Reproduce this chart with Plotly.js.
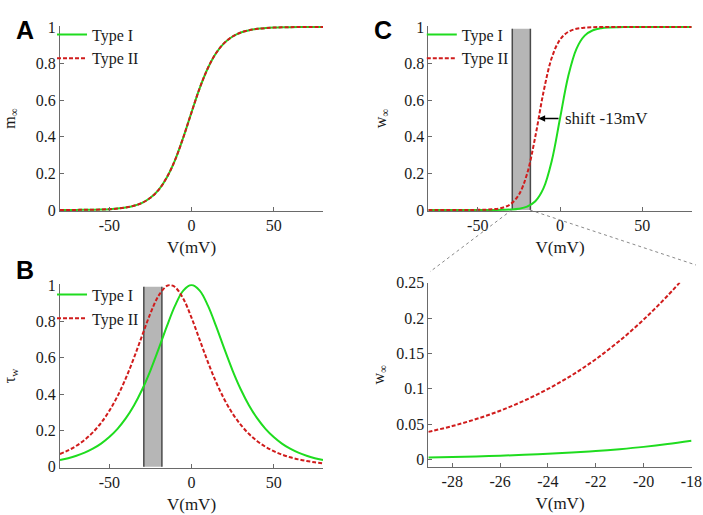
<!DOCTYPE html>
<html>
<head>
<meta charset="utf-8">
<script src="https://cdn.plot.ly/plotly-3.0.1.min.js"></script>
<style>
html,body{margin:0;padding:0;background:#fff;}
#chart{width:703px;height:515px;}
</style>
</head>
<body>
<div id="chart"></div>
<script>
// ---- data ----
const V = [-80,-75,-70,-65,-60,-55,-50,-45,-40,-35,-30,-25,-20,-15,-10,-5,0,5,10,15,20,25,30,35,40,45,50,55,60,65,70,75,80];
// Panel A: m_inf (Type I and Type II coincide)
const mInfI  = [0.0002,0.0003,0.0005,0.0008,0.0015,0.0025,0.0044,0.0076,0.0132,0.0229,0.0392,0.0664,0.110,0.178,0.273,0.396,0.533,0.666,0.776,0.858,0.913,0.948,0.970,0.982,0.990,0.994,0.9966,0.998,0.9989,0.9994,0.9996,0.9998,0.9999];
const mInfII = [0.0002,0.0003,0.0005,0.0008,0.0015,0.0025,0.0044,0.0076,0.0132,0.0229,0.0392,0.0664,0.110,0.178,0.273,0.396,0.533,0.666,0.776,0.858,0.913,0.948,0.970,0.982,0.990,0.994,0.9966,0.998,0.9989,0.9994,0.9996,0.9998,0.9999];
// Panel B: tau_w (normalised)
const tauI  = [0.0366,0.0470,0.0603,0.0774,0.0993,0.1273,0.1631,0.2085,0.2658,0.3374,0.4251,0.5295,0.6481,0.7724,0.8868,0.9696,1.0,0.9696,0.8868,0.7724,0.6481,0.5295,0.4251,0.3374,0.2658,0.2085,0.1631,0.1273,0.0993,0.0774,0.0603,0.0470,0.0366];
const Vtau2 = [-80,-75,-70,-65,-60,-55,-50,-45,-40,-35,-30,-25,-20,-15,-13,-10,-5,0,5,10,15,20,25,30,35,40,45,50,55,60,65,70,75,80];
const tauII = [0.0701,0.0899,0.1153,0.1477,0.1889,0.2413,0.3072,0.3880,0.4859,0.5993,0.7226,0.8436,0.9417,0.9950,1.0,0.9888,0.9250,0.8205,0.6978,0.5756,0.4649,0.3703,0.2926,0.2301,0.1800,0.1406,0.1097,0.0856,0.0667,0.0519,0.0405,0.0315,0.0246,0.0191];
// Panel C: w_inf
const wInfI  = [0,0,0,0,0,0,0,0.0001,0.0003,0.0009,0.0025,0.0067,0.0180,0.0474,0.1192,0.2689,0.5,0.7311,0.8808,0.9526,0.9820,0.9933,0.9975,0.9991,0.9997,0.9999,1,1,1,1,1,1,1];
const wInfII = [0,0,0,0,0.0001,0.0002,0.0006,0.0017,0.0045,0.0121,0.0323,0.0832,0.1978,0.4013,0.6457,0.8320,0.9309,0.9734,0.9900,0.9963,0.9986,0.9995,0.9998,0.9999,1,1,1,1,1,1,1,1,1];
// Panel D: zoom of w_inf
const Vzoom   = [-29,-28,-27,-26,-25,-24,-23,-22,-21,-20,-19,-18];
const wZoomI  = [0.0030,0.0037,0.0045,0.0055,0.0067,0.0082,0.0100,0.0121,0.0148,0.0180,0.0219,0.0266];
const wZoomII = [0.0392,0.0474,0.0573,0.0691,0.0832,0.0998,0.1192,0.1419,0.1680,0.1978,0.2315,0.2689];
// shaded window
const winV = [-29, -18];
const seriesNames = ['Type I', 'Type II'];
const xTicksWide = [-50, 0, 50];
const xTickTextWide = ['-50', '0', '50'];
const yTicksUnit = [0, 0.2, 0.4, 0.6, 0.8, 1];
const yTickTextUnit = ['0', '0.2', '0.4', '0.6', '0.8', '1'];
const xTicksZoom = [-28, -26, -24, -22, -20, -18];
const xTickTextZoom = ['-28', '-26', '-24', '-22', '-20', '-18'];
const yTicksZoom = [0, 0.05, 0.1, 0.15, 0.2, 0.25];
const yTickTextZoom = ['0', '0.05', '0.1', '0.15', '0.2', '0.25'];

// ---- styles ----
const GREEN = '#1fdc1f', RED = '#d01c1c', INK = '#1a1a1a';
const SERIF = 'Liberation Serif';
const lineI  = {color: GREEN, width: 2, shape: 'spline'};
const lineII = {color: RED, width: 2, dash: '4px,2px', shape: 'spline'};

const traces = [
  {x: V, y: mInfI,  xaxis: 'x',  yaxis: 'y',  name: seriesNames[0], line: lineI,  mode: 'lines', legend: 'legend'},
  {x: V, y: mInfII, xaxis: 'x',  yaxis: 'y',  name: seriesNames[1], line: lineII, mode: 'lines', legend: 'legend'},
  {x: V, y: tauI,   xaxis: 'x2', yaxis: 'y2', name: seriesNames[0], line: lineI,  mode: 'lines', legend: 'legend2'},
  {x: Vtau2, y: tauII, xaxis: 'x2', yaxis: 'y2', name: seriesNames[1], line: lineII, mode: 'lines', legend: 'legend2'},
  {x: V, y: wInfI,  xaxis: 'x3', yaxis: 'y3', name: seriesNames[0], line: lineI,  mode: 'lines', legend: 'legend3'},
  {x: V, y: wInfII, xaxis: 'x3', yaxis: 'y3', name: seriesNames[1], line: lineII, mode: 'lines', legend: 'legend3'},
  {x: Vzoom, y: wZoomI,  xaxis: 'x4', yaxis: 'y4', name: seriesNames[0], line: lineI,  mode: 'lines', showlegend: false},
  {x: Vzoom, y: wZoomII, xaxis: 'x4', yaxis: 'y4', name: seriesNames[1], line: lineII, mode: 'lines', showlegend: false}
];

function base() {
  return {
    showgrid: false, zeroline: false, showline: true, linecolor: '#6a6a6a', linewidth: 1,
    ticks: 'inside', ticklen: 4, tickcolor: '#6a6a6a', mirror: false, tickmode: 'array',
    tickfont: {family: SERIF, size: 16, color: INK}, fixedrange: true
  };
}
function xAx(domain, anchor, range, tickvals, ticktext) {
  return Object.assign(base(), {domain, anchor, range, tickvals, ticktext,
    title: {text: 'V(mV)', font: {family: SERIF, size: 17, color: INK}, standoff: 8}});
}
function yAx(domain, anchor, range, tickvals, ticktext, title, standoff) {
  return Object.assign(base(), {domain, anchor, range, tickvals, ticktext,
    title: {text: title, font: {family: SERIF, size: 16, color: INK}, standoff}});
}

const xL = [0.0853, 0.4595], xR = [0.6093, 0.9839];
const yTop = [0.5905, 0.9494], yBotL = [0.0920, 0.4483], yBotR = [0.0938, 0.4511];

function legendAt(x, y) {
  return {bgcolor: 'rgba(0,0,0,0)', borderwidth: 0, font: {family: SERIF, size: 16, color: INK},
    xanchor: 'left', yanchor: 'top', itemwidth: 30, tracegroupgap: 0, x, y};
}

const shapes = [];
// shaded windows in B and C
[['x2','y2'], ['x3','y3']].forEach(([xr, yr]) => {
  shapes.push({type: 'rect', xref: xr, yref: yr, x0: winV[0], x1: winV[1], y0: 0, y1: 0.99,
    fillcolor: '#b6b6b6', line: {width: 0}, layer: 'below'});
  winV.forEach(v => shapes.push({type: 'line', xref: xr, yref: yr, x0: v, x1: v, y0: 0, y1: 0.99,
    line: {color: '#4a4a4a', width: 1.5}, layer: 'below'}));
});
// dotted connectors from C window to zoom panel D
shapes.push({type: 'line', xref: 'paper', yref: 'paper', x0: 0.7279, y0: 0.5922, x1: 0.6117, y1: 0.4724,
  line: {color: '#8a8a8a', width: 1, dash: 'dot'}});
shapes.push({type: 'line', xref: 'paper', yref: 'paper', x0: 0.7539, y0: 0.5922, x1: 0.9900, y1: 0.4854,
  line: {color: '#8a8a8a', width: 1, dash: 'dot'}});

const letterFont = {family: 'Liberation Sans', size: 25, color: '#000'};
const annotations = [
  {text: '<b>A</b>', xref: 'paper', yref: 'paper', x: 14/703, y: 1 - 14/515, showarrow: false, font: letterFont},
  {text: '<b>B</b>', xref: 'paper', yref: 'paper', x: 14/703, y: 1 - 270/515, showarrow: false, font: letterFont},
  {text: '<b>C</b>', xref: 'paper', yref: 'paper', x: 383/703, y: 1 - 14/515, showarrow: false, font: letterFont},
  {text: '', xref: 'x3', yref: 'y3', x: -13, y: 0.5, ax: 0, ay: 0.5, axref: 'x3', ayref: 'y3',
   showarrow: true, arrowhead: 2, arrowsize: 1, arrowwidth: 1.3, arrowcolor: '#000', standoff: 0, startstandoff: 0},
  {text: 'shift -13mV', xref: 'x3', yref: 'y3', x: 2, y: 0.5, xanchor: 'left', yanchor: 'middle', showarrow: false,
   font: {family: SERIF, size: 17, color: INK}}
];

const layout = {
  width: 703, height: 515, margin: {l: 0, r: 0, t: 0, b: 0},
  font: {family: SERIF, size: 16, color: INK},
  paper_bgcolor: '#fff', plot_bgcolor: 'rgba(0,0,0,0)',
  xaxis:  xAx(xL, 'y',  [-80, 80], xTicksWide, xTickTextWide),
  yaxis:  yAx(yTop, 'x', [-0.005, 1.005], yTicksUnit, yTickTextUnit, 'm<sub>∞</sub>', 16),
  xaxis2: xAx(xL, 'y2', [-80, 80], xTicksWide, xTickTextWide),
  yaxis2: yAx(yBotL, 'x2', [-0.005, 1.005], yTicksUnit, yTickTextUnit, 'τ<sub>w</sub>', 16),
  xaxis3: xAx(xR, 'y3', [-80, 80], xTicksWide, xTickTextWide),
  yaxis3: yAx(yTop, 'x3', [-0.005, 1.005], yTicksUnit, yTickTextUnit, 'w<sub>∞</sub>', 13),
  xaxis4: xAx(xR, 'y4', [-29, -17.99], xTicksZoom, xTickTextZoom),
  yaxis4: yAx(yBotR, 'x4', [-0.01, 0.25], yTicksZoom, yTickTextZoom, 'w<sub>∞</sub>', 7),
  legend:  legendAt(0.074, 0.966),
  legend2: legendAt(0.074, 0.461),
  legend3: legendAt(0.600, 0.966),
  shapes, annotations, showlegend: true
};

Plotly.newPlot('chart', traces, layout, {displayModeBar: false, staticPlot: true});
</script>
</body>
</html>
